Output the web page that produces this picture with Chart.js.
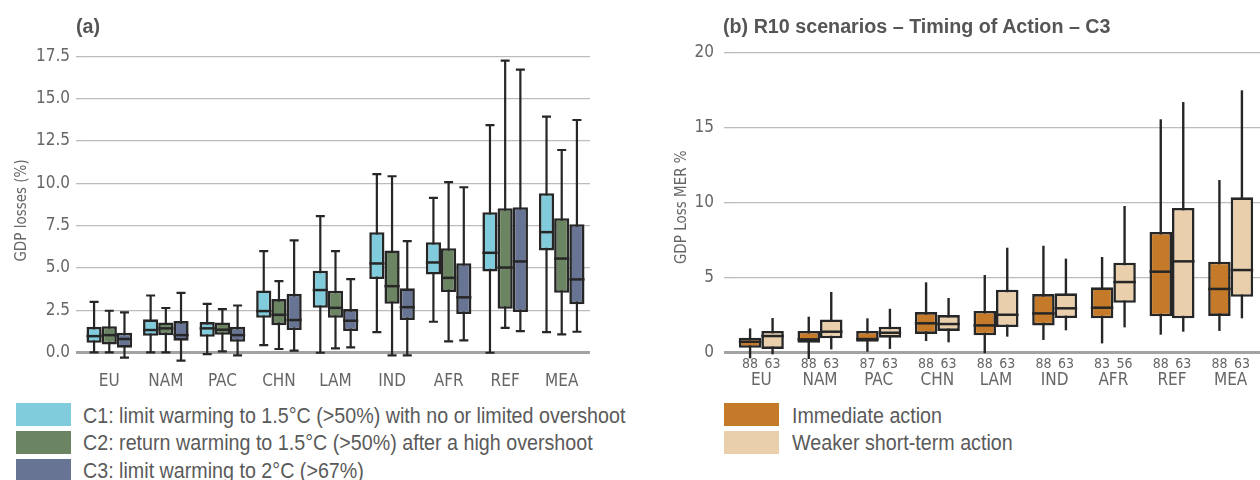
<!DOCTYPE html>
<html>
<head>
<meta charset="utf-8">
<script src="https://cdn.jsdelivr.net/npm/chart.js@4.4.1/dist/chart.umd.min.js"></script>
<style>
  body { margin: 0; width: 1260px; height: 480px; overflow: hidden; background: #fff;
         font-family: 'Liberation Sans', Arial, sans-serif; color: #5a5a5a; }
  .panel { position: absolute; top: 0; height: 400px; }
  .title { position: absolute; top: 14px; font-size: 20px; font-weight: bold; color: #555; line-height: 24px;
           white-space: nowrap; transform: scaleX(0.985); transform-origin: 0 0; }
  .legend { position: absolute; top: 403px; }
  .row { position: relative; height: 27.9px; white-space: nowrap; }
  .sw { position: absolute; top: 0; height: 23px; width: 55px; }
  .lbl { position: absolute; top: -1.5px; font-size: 22px; line-height: 27px; color: #5a5a5a;
         transform: scaleX(0.895); transform-origin: 0 0; }
</style>
</head>
<body>
<div class="panel" style="left:0; width:632px;"><canvas id="chartA" width="632" height="400"></canvas></div>
<div class="panel" style="left:640px; width:620px;"><canvas id="chartB" width="620" height="400"></canvas></div>
<div class="title" style="left:76px;">(a)</div>
<div class="title" style="left:723px;">(b) R10 scenarios – Timing of Action – C3</div>
<div class="legend" style="left:16px;" id="legendA"></div>
<div class="legend" style="left:724px;" id="legendB"></div>
<script>
// regions
const regions = ['EU', 'NAM', 'PAC', 'CHN', 'LAM', 'IND', 'AFR', 'REF', 'MEA'];

// panel (a): [min, q1, median, q3, max] per region
const c1 = [
  [0.02, 0.59, 0.98, 1.53, 3.0],
  [0.02, 1.0, 1.34, 1.97, 3.38],
  [-0.08, 0.94, 1.44, 1.81, 2.89],
  [0.45, 2.06, 2.46, 3.68, 6.0],
  [0.0, 2.65, 3.70, 4.84, 8.06],
  [1.22, 4.35, 5.27, 7.12, 10.55],
  [1.83, 4.62, 5.33, 6.53, 9.14],
  [0.0, 4.80, 5.90, 8.30, 13.44],
  [1.22, 6.04, 7.12, 9.42, 13.94]
];
const c2 = [
  [0.02, 0.49, 1.04, 1.57, 2.48],
  [0.02, 1.04, 1.44, 1.79, 2.64],
  [0.08, 1.06, 1.36, 1.79, 2.58],
  [0.22, 1.63, 2.24, 3.17, 4.23],
  [0.26, 2.06, 2.65, 3.66, 6.0],
  [-0.15, 2.89, 3.93, 6.04, 10.42],
  [0.67, 3.58, 4.42, 6.17, 10.07],
  [1.47, 2.59, 5.03, 8.53, 17.24],
  [1.08, 3.54, 5.56, 7.94, 11.97]
];
const c3 = [
  [-0.29, 0.30, 0.81, 1.18, 2.38],
  [-0.47, 0.71, 1.04, 1.87, 3.54],
  [-0.15, 0.65, 1.04, 1.53, 2.79],
  [0.12, 1.34, 1.93, 3.48, 6.63],
  [0.32, 1.28, 1.89, 2.58, 4.35],
  [-0.15, 1.93, 2.69, 3.80, 6.59],
  [0.73, 2.28, 3.27, 5.29, 9.77],
  [1.28, 2.40, 5.39, 8.59, 16.71],
  [1.24, 2.87, 4.33, 7.59, 13.74]
];

// panel (b)
const immediate = [
  [-0.38, 0.33, 0.73, 1.0, 1.62],
  [-0.42, 0.67, 0.89, 1.45, 2.4],
  [0.07, 0.73, 0.91, 1.45, 2.29],
  [0.78, 1.25, 1.96, 2.71, 4.69],
  [-0.04, 1.16, 1.82, 2.78, 5.18],
  [0.85, 1.82, 2.62, 3.91, 7.13],
  [0.62, 2.29, 3.0, 4.36, 6.38],
  [1.2, 2.43, 5.40, 8.05, 15.56],
  [1.45, 2.45, 4.25, 6.07, 11.51]
];
const weaker = [
  [-0.11, 0.25, 1.11, 1.45, 2.31],
  [0.22, 0.96, 1.40, 2.22, 4.05],
  [0.25, 1.0, 1.33, 1.73, 2.93],
  [0.69, 1.45, 1.91, 2.51, 3.65],
  [1.07, 1.71, 2.53, 4.2, 7.0],
  [1.49, 2.31, 2.96, 3.96, 6.27],
  [1.69, 3.33, 4.71, 6.0, 9.78],
  [1.40, 2.29, 6.09, 9.65, 16.71],
  [2.29, 3.73, 5.51, 10.36, 17.49]
];
const countsImmediate = [88, 88, 87, 88, 88, 88, 83, 88, 88];
const countsWeaker = [63, 63, 63, 63, 63, 63, 56, 63, 63];

const ticksA = [0, 2.5, 5, 7.5, 10, 12.5, 15, 17.5];
const ticksB = [0, 5, 10, 15, 20];

const legendA = [
  ['C1: limit warming to 1.5°C (>50%) with no or limited overshoot', '#80cbdc'],
  ['C2: return warming to 1.5°C (>50%) after a high overshoot', '#6b8462'],
  ['C3: limit warming to 2°C (>67%)', '#687493']
];
const legendB = [
  ['Immediate action', '#c57a2a'],
  ['Weaker short-term action', '#eacfad']
];

const FONT = "'DejaVu Sans Condensed', 'Liberation Sans', sans-serif";
Chart.defaults.font.family = FONT;
Chart.defaults.color = '#666';
const INK = '#262626';

// whiskers behind the boxes, medians and counts on top
const boxWhiskers = {
  id: 'boxWhiskers',
  beforeDatasetsDraw(chart, args, opts) {
    const ctx = chart.ctx, y = chart.scales.y;
    ctx.save();
    ctx.strokeStyle = INK;
    ctx.lineWidth = opts.whiskerWidth;
    chart.data.datasets.forEach((ds, i) => {
      chart.getDatasetMeta(i).data.forEach((bar, j) => {
        const s = ds.stats[j];
        const lo = y.getPixelForValue(s[0]), hi = y.getPixelForValue(s[4]);
        ctx.beginPath();
        ctx.moveTo(bar.x, lo);
        ctx.lineTo(bar.x, hi);
        if (opts.cap) {
          ctx.moveTo(bar.x - opts.cap / 2, lo);
          ctx.lineTo(bar.x + opts.cap / 2, lo);
          ctx.moveTo(bar.x - opts.cap / 2, hi);
          ctx.lineTo(bar.x + opts.cap / 2, hi);
        }
        ctx.stroke();
      });
    });
    ctx.restore();
  },
  afterDatasetsDraw(chart, args, opts) {
    const ctx = chart.ctx, y = chart.scales.y;
    ctx.save();
    ctx.strokeStyle = INK;
    ctx.lineWidth = 2.5;
    chart.data.datasets.forEach((ds, i) => {
      chart.getDatasetMeta(i).data.forEach((bar, j) => {
        const m = y.getPixelForValue(ds.stats[j][2]);
        ctx.beginPath();
        ctx.moveTo(bar.x - bar.width / 2, m);
        ctx.lineTo(bar.x + bar.width / 2, m);
        ctx.stroke();
        if (ds.counts) {
          ctx.fillStyle = '#666';
          ctx.font = '14px ' + FONT;
          ctx.textAlign = 'center';
          ctx.textBaseline = 'middle';
          ctx.fillText(String(ds.counts[j]), bar.x, y.getPixelForValue(0) + 12);
        }
      });
    });
    ctx.restore();
  }
};

function boxDataset(label, stats, color, counts) {
  return {
    label: label,
    stats: stats,
    counts: counts,
    data: stats.map(s => [s[1], s[3]]),
    backgroundColor: color,
    borderColor: INK,
    borderWidth: 2.6,
    borderSkipped: false,
    barPercentage: 1
  };
}

function gridColor(c) { return c.tick && c.tick.value === 0 ? '#a3a3a3' : '#bcbcbc'; }
function gridWidth(c) { return c.tick && c.tick.value === 0 ? 3 : 1.3; }

new Chart(document.getElementById('chartA'), {
  type: 'bar',
  data: {
    labels: regions,
    datasets: [
      boxDataset(legendA[0][0], c1, legendA[0][1]),
      boxDataset(legendA[1][0], c2, legendA[1][1]),
      boxDataset(legendA[2][0], c3, legendA[2][1])
    ].map(d => Object.assign(d, { categoryPercentage: 0.806 }))
  },
  options: {
    responsive: false,
    animation: false,
    layout: { padding: { left: 0, right: 42, top: 56.3, bottom: 0 } },
    plugins: {
      legend: { display: false },
      tooltip: { enabled: false },
      boxWhiskers: { cap: 9, whiskerWidth: 2.2 }
    },
    scales: {
      x: {
        grid: { display: false, drawTicks: false },
        border: { display: false },
        ticks: { font: { size: 17 }, padding: 7, color: '#666' },
        afterFit: s => { s.height = 35.4; }
      },
      y: {
        min: -0.7,
        max: 17.5,
        afterBuildTicks: s => { s.ticks = ticksA.map(v => ({ value: v })); },
        afterFit: s => { s.width = 81; },
        border: { display: false },
        grid: { color: gridColor, lineWidth: gridWidth, tickLength: 5 },
        ticks: { font: { size: 17 }, padding: 6, color: '#666', callback: v => v.toFixed(1) },
        title: { display: true, text: 'GDP losses (%)', font: { size: 15 }, color: '#666', padding: { top: 13 } }
      }
    }
  },
  plugins: [boxWhiskers]
});

new Chart(document.getElementById('chartB'), {
  type: 'bar',
  data: {
    labels: regions,
    datasets: [
      boxDataset(legendB[0][0], immediate, legendB[0][1], countsImmediate),
      boxDataset(legendB[1][0], weaker, legendB[1][1], countsWeaker)
    ].map(d => Object.assign(d, { categoryPercentage: 0.767 }))
  },
  options: {
    responsive: false,
    animation: false,
    layout: { padding: { left: 0, right: 0, top: 52.7, bottom: 0 } },
    plugins: {
      legend: { display: false },
      tooltip: { enabled: false },
      boxWhiskers: { cap: 0, whiskerWidth: 2.4 }
    },
    scales: {
      x: {
        grid: { display: false, drawTicks: false },
        border: { display: false },
        ticks: { font: { size: 17 }, padding: 9, color: '#666' },
        afterFit: s => { s.height = 38.3; }
      },
      y: {
        min: -0.6,
        max: 20,
        afterBuildTicks: s => { s.ticks = ticksB.map(v => ({ value: v })); },
        afterFit: s => { s.width = 92; },
        border: { display: false },
        grid: { color: gridColor, lineWidth: gridWidth, tickLength: 8 },
        ticks: { font: { size: 17 }, padding: 10, color: '#666' },
        title: { display: true, text: 'GDP Loss MER %', font: { size: 15 }, color: '#666', padding: { top: 33 } }
      }
    }
  },
  plugins: [boxWhiskers]
});

// legends below the panels
function buildLegend(id, items, txtLeft) {
  const el = document.getElementById(id);
  items.forEach(([text, color]) => {
    const row = document.createElement('div');
    row.className = 'row';
    row.innerHTML = '<div class="sw" style="background:' + color + '"></div>' +
      '<div class="lbl" style="left:' + txtLeft + 'px">' + text + '</div>';
    el.appendChild(row);
  });
}
buildLegend('legendA', legendA, 66.7);
buildLegend('legendB', legendB, 68);
</script>
</body>
</html>
